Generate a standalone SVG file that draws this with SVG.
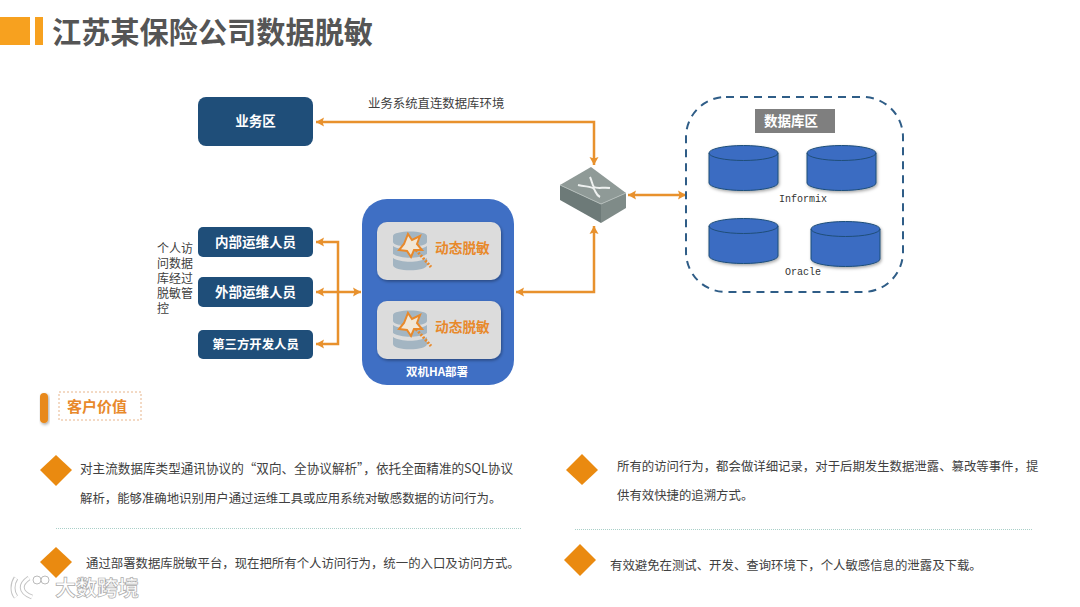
<svg xmlns="http://www.w3.org/2000/svg" xmlns:xlink="http://www.w3.org/1999/xlink" width="1080" height="607" viewBox="0 0 1080 607">
<style>
text{font-family:"Noto Sans CJK SC","Liberation Sans",sans-serif}
.box{fill:#1f4e79}
.w{fill:#fff;font-weight:700;font-size:13.500px;text-anchor:middle}
.b{fill:#404040;font-size:12.400px}
.d{fill:#404040;font-size:12px}
.m{font-family:"Liberation Mono","DejaVu Sans Mono",monospace;font-size:10px;fill:#333;text-anchor:middle}
.o{fill:#e8892b;font-weight:700;font-size:13.700px}
.c{fill:none;stroke:#e8912d;stroke-width:2.500}
.dia{fill:#ea8a10}
.sep{stroke:#a9cfc8;stroke-width:1;stroke-dasharray:1 1;fill:none}
.inner{fill:#dcdcdc;filter:url(#sh)}
</style>
<defs>
<filter id="sh" x="-10%" y="-10%" width="125%" height="125%"><feDropShadow dx="1" dy="1.500" stdDeviation="1.500" flood-color="#000" flood-opacity=".35"/></filter>
<marker id="ah" markerUnits="userSpaceOnUse" markerWidth="10" markerHeight="10" refX="8" refY="5" orient="auto-start-reverse"><path d="M0 0.500L8 5L0 9.500L1.500 5Z" fill="#e8912d"/></marker>
<g id="cyl"><path d="M0 7A34.500 7.500 0 0 1 69 7V37A34.500 7.500 0 0 1 0 37Z" fill="#3a6cc2" stroke="#1f4e79" filter="url(#sh)"/><path d="M0 7A34.500 7.500 0 0 0 69 7" fill="none" stroke="#1f4e79"/></g>
<g id="wand">
<path d="M0 5C0 -1 34 -1 34 5V11C34 17 0 17 0 11Z" fill="#a3b5c2"/>
<path d="M0 15C8 20 26 20 34 15V23C26 28 8 28 0 23Z" fill="#a3b5c2"/>
<path d="M0 27C8 32 26 32 34 27V34C34 41 0 41 0 34Z" fill="#a3b5c2"/>
<path d="M15 3L19 9L27 5L24 13L29 19L21 19L18 26L14 20L6 19L11 13Z" fill="#f1e6d6" stroke="#e8892b" stroke-width="2"/>
<path d="M23 19L38 36" fill="none" stroke="#e8892b" stroke-width="3" stroke-dasharray="2 1.500"/>
</g>
</defs>
<rect width="1080" height="607" fill="#fff"/>
<g id="title"><rect x="0" y="17" width="30" height="28" fill="#f7a11f"/><rect x="35" y="17" width="8" height="28" fill="#f7a11f"/><text x="52" y="43" font-size="29.200" font-weight="700" fill="#555">江苏某保险公司数据脱敏</text></g>
<g id="connectors">
<path class="c" d="M316 122H594V165" marker-start="url(#ah)" marker-end="url(#ah)"/>
<path class="c" d="M628 195H686" marker-start="url(#ah)" marker-end="url(#ah)"/>
<path class="c" d="M516 292H594V226" marker-start="url(#ah)" marker-end="url(#ah)"/>
<path class="c" d="M316 292H361" marker-start="url(#ah)" marker-end="url(#ah)"/>
<path class="c" d="M316 242H338V344H316" marker-start="url(#ah)" marker-end="url(#ah)"/>
</g>
<g id="node-biz"><rect class="box" x="198" y="97" width="115" height="49" rx="8"/><text class="w" x="255.500" y="126">业务区</text></g>
<text id="lbl-direct" x="368" y="108" fill="#404040" font-size="12.400">业务系统直连数据库环境</text>
<g id="node-internal"><rect class="box" x="198" y="227" width="115" height="30" rx="5"/><text class="w" x="255.500" y="247">内部运维人员</text></g>
<g id="node-external"><rect class="box" x="198" y="277" width="115" height="30" rx="5"/><text class="w" x="255.500" y="297">外部运维人员</text></g>
<g id="node-third"><rect class="box" x="198" y="330" width="115" height="29" rx="5"/><text class="w" x="255.500" y="349" style="font-size:12.400px">第三方开发人员</text></g>
<g id="lbl-personal"><text class="d" x="157" y="253">个人访</text><text class="d" x="157" y="268">问数据</text><text class="d" x="157" y="283">库经过</text><text class="d" x="157" y="298">脱敏管</text><text class="d" x="157" y="313">控</text></g>
<g id="node-ha">
<rect x="362" y="199" width="152" height="186" rx="25" fill="#3f6fc4"/>
<rect class="inner" x="377" y="222" width="124" height="58" rx="10"/>
<use xlink:href="#wand" href="#wand" x="393" y="231"/>
<text class="o" x="435" y="253">动态脱敏</text>
<rect class="inner" x="377" y="301" width="124" height="58" rx="10"/>
<use xlink:href="#wand" href="#wand" x="393" y="310"/>
<text class="o" x="435" y="332">动态脱敏</text>
<text class="w" x="437" y="376" style="font-size:11.500px">双机HA部署</text>
</g>
<g id="node-switch">
<path d="M560 185L601 204V223L560 200Z" fill="#6d7a78"/>
<path d="M601 204L626 193V208L601 223Z" fill="#7f8b88"/>
<path d="M591 167L626 193L601 204L560 185Z" fill="#8f9a97"/>
<path d="M560 185L601 204L626 193" fill="none" stroke="#b3bcb9" stroke-width="1"/>
<path d="M578 185C586 187 592 186 594 189C596 192 596 195 600 197M590 177C592 181 592 185 594 187C597 189 604 187 610 188" fill="none" stroke="#eef1f0" stroke-width="2"/>
</g>
<g id="node-db">
<rect x="686" y="97" width="217" height="195" rx="40" fill="none" stroke="#2f5d87" stroke-width="2" stroke-dasharray="8 6"/>
<rect x="755" y="109" width="80" height="24" fill="#7f7f7f"/><text x="791" y="126" text-anchor="middle" font-size="13.500" font-weight="700" fill="#fff">数据库区</text>
<use xlink:href="#cyl" href="#cyl" x="709" y="146"/><use xlink:href="#cyl" href="#cyl" x="807" y="146"/>
<use xlink:href="#cyl" href="#cyl" x="709" y="219"/><use xlink:href="#cyl" href="#cyl" x="811" y="222"/>
<text class="m" x="803" y="202">Informix</text><text class="m" x="803" y="275">Oracle</text>
</g>
<g id="value-head"><rect x="40" y="393" width="8" height="30" rx="4" fill="#e8891a" filter="url(#sh)"/><rect x="59" y="392" width="82" height="28" fill="none" stroke="#e7b48a" stroke-dasharray="2 2"/><text x="67" y="412" font-size="15" font-weight="700" fill="#e8892b">客户价值</text></g>
<g id="value-1"><path class="dia" d="M56 455L72 470L56 486L40 470Z"/><text class="b" x="80" y="473" style="font-size:12.600px">对主流数据库类型通讯协议的“双向、全协议解析”，依托全面精准的SQL协议</text><text class="b" x="80" y="503">解析，能够准确地识别用户通过运维工具或应用系统对敏感数据的访问行为。</text></g>
<g id="value-2"><path class="dia" d="M56 547L72 562L56 578L40 562Z"/><text class="b" x="86" y="568">通过部署数据库脱敏平台，现在把所有个人访问行为，统一的入口及访问方式。</text></g>
<g id="value-3"><path class="dia" d="M582 454L598 470L582 485L566 470Z"/><text class="b" x="617" y="471">所有的访问行为，都会做详细记录，对于后期发生数据泄露、篡改等事件，提</text><text class="b" x="617" y="500">供有效快捷的追溯方式。</text></g>
<g id="value-4"><path class="dia" d="M580 544L596 560L580 576L564 560Z"/><text class="b" x="610" y="570">有效避免在测试、开发、查询环境下，个人敏感信息的泄露及下载。</text></g>
<path class="sep" d="M56 528.500H521"/><path class="sep" d="M575 529.500H1032"/>
<g id="watermark">
<path d="M16 578C12 584 12 592 16 597M29 578C20 584 19 592 32 597" fill="none" stroke="#c4c4c4" stroke-width="5"/>
<path d="M16 578C12 584 12 592 16 597M29 578C20 584 19 592 32 597" fill="none" stroke="#fff" stroke-width="3"/>
<circle cx="37" cy="580" r="4" fill="#fff" stroke="#bbb"/><circle cx="45" cy="580" r="4" fill="#fff" stroke="#bbb"/>
<text x="55" y="595" font-size="21" font-weight="700" fill="#fff" stroke="#aaa" stroke-width=".7">大数跨境</text>
</g>
</svg>
